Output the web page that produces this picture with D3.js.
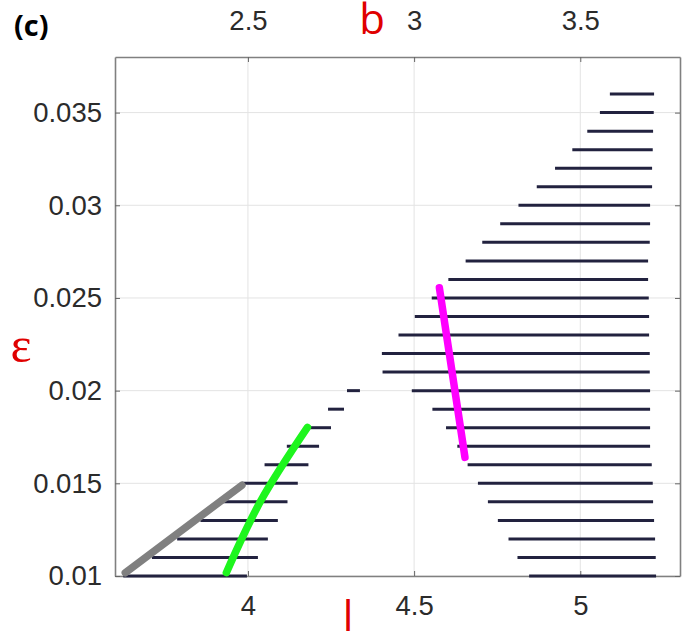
<!DOCTYPE html>
<html><head><meta charset="utf-8">
<script src="https://cdn.jsdelivr.net/npm/d3@7"></script>
<style>body{margin:0;background:#fff}svg{display:block}</style>
</head><body>
<svg id="c" width="693" height="638"></svg>
<script>
// ---- data ----
const lTicks = [4, 4.5, 5];
const bTicks = [2.5, 3, 3.5];
const epsTicks = [0.01, 0.015, 0.02, 0.025, 0.03, 0.035];

const leftEps   = [0.010,0.011,0.012,0.013,0.014,0.015,0.016,0.017,0.018,0.019,0.020];
const leftStart = [3.625,3.711,3.787,3.857,3.926,3.982,4.050,4.117,4.187,4.241,4.298];
const leftEnd   = [3.997,4.030,4.060,4.090,4.119,4.150,4.182,4.214,4.250,4.289,4.337];

const rightEps   = [0.010,0.011,0.012,0.013,0.014,0.015,0.016,0.017,0.018,0.019,0.020,0.021,0.022,0.023,0.024,0.025,0.026,0.027,0.028,0.029,0.030,0.031,0.032,0.033,0.034,0.035,0.036];
const rightStart = [4.846,4.811,4.784,4.752,4.722,4.692,4.661,4.630,4.596,4.555,4.493,4.405,4.403,4.453,4.502,4.553,4.603,4.655,4.705,4.759,4.814,4.869,4.924,4.976,5.021,5.059,5.089];
const rightEnd   = [5.228,5.227,5.225,5.222,5.219,5.218,5.215,5.210,5.210,5.210,5.210,5.209,5.209,5.207,5.207,5.206,5.204,5.204,5.209,5.210,5.210,5.216,5.216,5.218,5.219,5.221,5.222];

const grayL = [3.631, 3.982];
const grayE = [0.01018, 0.0149];
const greenL = [3.935, 4.040, 4.179];
const greenE = [0.01018, 0.0141, 0.01802];
const magentaL = [4.576, 4.653];
const magentaE = [0.02555, 0.0164];

// ---- layout ----
const L = 115, R = 680, T = 57, B = 576;
const x = d3.scaleLinear().domain([3.6, 5.3]).range([L, R]);
const xb = d3.scaleLinear().domain([2.1, 3.8]).range([L, R]);
const y = d3.scaleLinear().domain([0.01, 0.038]).range([B, T]);

const svg = d3.select('#c');
const tickFont = '"Liberation Sans", Arial, sans-serif';

// grid
const g = svg.append('g');
g.selectAll('.vg').data(lTicks).join('line')
  .attr('x1', d => x(d)).attr('x2', d => x(d)).attr('y1', T).attr('y2', B)
  .attr('stroke', '#e3e3e3').attr('stroke-width', 1);
g.selectAll('.hg').data(epsTicks).join('line')
  .attr('y1', d => y(d)).attr('y2', d => y(d)).attr('x1', L).attr('x2', R)
  .attr('stroke', '#e3e3e3').attr('stroke-width', 1);

// axes
const axB = svg.append('g').attr('transform', `translate(0,${B})`)
  .call(d3.axisBottom(x).tickValues(lTicks).tickSizeInner(-5).tickSizeOuter(0).tickPadding(19).tickFormat(d3.format('')));
const axT = svg.append('g').attr('transform', `translate(0,${T})`)
  .call(d3.axisTop(xb).tickValues(bTicks).tickSizeInner(-5).tickSizeOuter(0).tickPadding(27).tickFormat(d3.format('')));
const axL = svg.append('g').attr('transform', `translate(${L},0)`)
  .call(d3.axisLeft(y).tickValues(epsTicks).tickSizeInner(-5).tickSizeOuter(0).tickPadding(13).tickFormat(d3.format('')));
const axR = svg.append('g').attr('transform', `translate(${R},0)`)
  .call(d3.axisRight(y).tickValues(epsTicks).tickSizeInner(-5).tickSizeOuter(0).tickFormat(''));
[axB, axT, axL, axR].forEach(a => {
  a.select('.domain').attr('stroke', '#808080').attr('stroke-width', 1.6);
  a.selectAll('.tick line').attr('stroke', '#666');
  a.selectAll('.tick text').attr('font-family', tickFont).attr('font-size', 27.5).attr('fill', '#2b2b2b');
});

// bars
const bars = svg.append('g').attr('stroke', '#22223f').attr('stroke-width', 3);
bars.selectAll('.lb').data(leftEps).join('line')
  .attr('x1', (d, i) => x(leftStart[i])).attr('x2', (d, i) => x(leftEnd[i]))
  .attr('y1', d => y(d)).attr('y2', d => y(d));
bars.selectAll('.rb').data(rightEps).join('line')
  .attr('x1', (d, i) => x(rightStart[i])).attr('x2', (d, i) => x(rightEnd[i]))
  .attr('y1', d => y(d)).attr('y2', d => y(d));

// curves
function drawCurve(ls, es, color, curve) {
  const pts = ls.map((l, i) => [x(l), y(es[i])]);
  svg.append('path').attr('d', d3.line().curve(curve)(pts))
    .attr('fill', 'none').attr('stroke', color).attr('stroke-width', 7.5)
    .attr('stroke-linecap', 'round').attr('stroke-linejoin', 'round');
}
drawCurve(grayL, grayE, '#808080', d3.curveLinear);
drawCurve(greenL, greenE, '#1ef51e', d3.curveNatural);
drawCurve(magentaL, magentaE, '#ff00ff', d3.curveLinear);

// labels
svg.append('text').attr('x', 14).attr('y', 36).text('(c)')
  .attr('font-family', '"Open Sans", "Noto Sans", sans-serif').attr('font-weight', 'bold').attr('font-size', 29).attr('fill', '#000');
svg.append('text').attr('x', 372).attr('y', 34).attr('text-anchor', 'middle').text('b')
  .attr('font-family', '"Open Sans", "Noto Sans", sans-serif').attr('font-size', 42).attr('fill', '#e00000');
svg.append('text').attr('x', 348).attr('y', 631).attr('text-anchor', 'middle').text('l')
  .attr('font-family', '"Open Sans", "Noto Sans", sans-serif').attr('font-size', 42).attr('fill', '#e00000');
svg.append('text').attr('x', 21).attr('y', 362).attr('text-anchor', 'middle').text('ε')
  .attr('font-family', '"Liberation Serif", "DejaVu Serif", serif').attr('font-size', 50).attr('fill', '#e00000');
</script>
</body></html>
